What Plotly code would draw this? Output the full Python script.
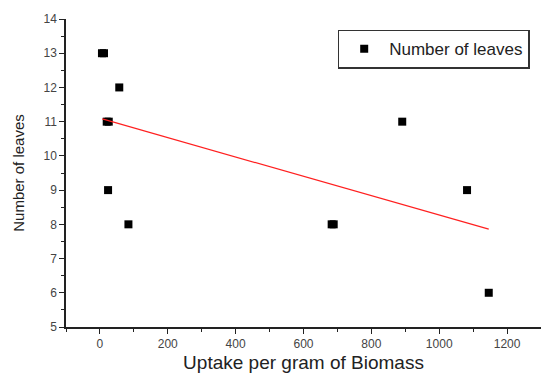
import plotly.graph_objects as go

uptake = [6, 12, 57, 20, 26, 24, 84, 683, 689, 891, 1082, 1146]
leaves = [13, 13, 12, 11, 11, 9, 8, 8, 8, 11, 9, 6]
fit_x = [7, 1146]
fit_y = [11.08, 7.86]

fig = go.Figure()
fig.add_trace(go.Scatter(x=uptake, y=leaves, mode="markers", name="Number of leaves",
                         marker=dict(symbol="square", size=8, color="black")))
fig.add_trace(go.Scatter(x=fit_x, y=fit_y, mode="lines", showlegend=False,
                         line=dict(color="#ff2020", width=1.2)))

fig.update_layout(
    width=541, height=373,
    margin=dict(l=66, r=0, t=19, b=46),
    plot_bgcolor="white", paper_bgcolor="white",
    font=dict(family="Arial, Liberation Sans", color="#333"),
    legend=dict(x=0.572, y=0.965, xanchor="left", yanchor="top",
                bordercolor="#333", borderwidth=1.5, bgcolor="white",
                itemwidth=40,
                font=dict(size=17, color="#222"), tracegroupgap=0),
    xaxis=dict(range=[-100, 1300], tickvals=[0, 200, 400, 600, 800, 1000, 1200],
               showgrid=False, zeroline=False, showline=True, linecolor="#222", linewidth=1.5,
               ticks="outside", ticklen=5, tickcolor="#222", tickfont=dict(size=12, color="#444"),
               minor=dict(dtick=100, ticks="outside", ticklen=3, tickcolor="#222"),
               title=dict(text="Uptake per gram of Biomass", font=dict(size=19, color="#222"), standoff=6)),
    yaxis=dict(range=[5, 14], dtick=1,
               showgrid=False, zeroline=False, showline=True, linecolor="#222", linewidth=1.5,
               ticks="outside", ticklen=5, tickcolor="#222", tickfont=dict(size=12, color="#444"),
               minor=dict(dtick=0.5, ticks="outside", ticklen=3, tickcolor="#222"),
               title=dict(text="Number of leaves", font=dict(size=15, color="#222"), standoff=15)),
)

fig.write_html("out.html")
